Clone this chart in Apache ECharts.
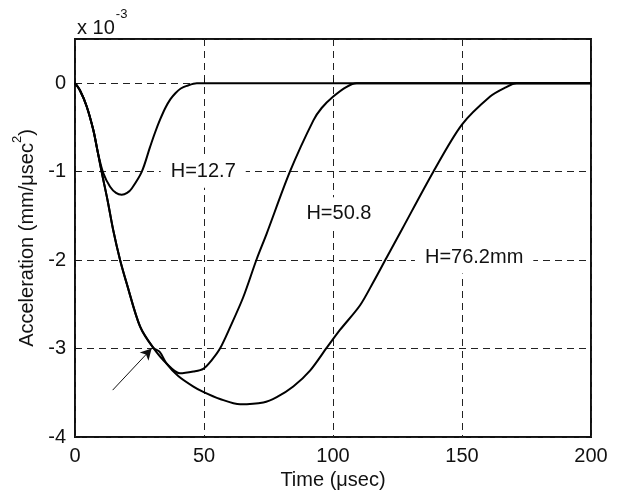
<!DOCTYPE html>
<html>
<head>
<meta charset="utf-8">
<script src="https://cdn.jsdelivr.net/npm/echarts@6/dist/echarts.min.js"></script>
<style>
html,body{margin:0;padding:0;background:#fff;}
#c{width:619px;height:490px;}
</style>
</head>
<body>
<div id="c"></div>
<script>
// Time (usec) and acceleration (x 10^-3 mm/usec^2)
var t1 = [0, 1.9, 4.5, 7.1, 8.9, 11.0, 13.6, 15.9, 18.1, 20.2, 22.0, 25.9, 29.1, 31.0, 33.0, 35.0, 37.0, 39.0, 41.0, 43.3, 47.2, 200];
var a1 = [0, -0.08, -0.26, -0.53, -0.79, -1.02, -1.17, -1.24, -1.26, -1.24, -1.19, -1.0, -0.72, -0.56, -0.41, -0.28, -0.18, -0.11, -0.06, -0.03, 0, 0];

var t2 = [0, 1.9, 4.5, 7.1, 8.9, 10.3, 12.6, 14.8, 17.4, 20.0, 25.2, 30.3, 35.5, 40.7, 45.9, 49.7, 53.0, 56.2, 60.1, 65.2, 70.4, 74.3, 83.3, 92.4, 95.6, 100.1, 105.3, 109.2, 200];
var a2 = [0, -0.08, -0.26, -0.53, -0.79, -1.0, -1.32, -1.66, -1.99, -2.26, -2.75, -2.99, -3.17, -3.28, -3.26, -3.23, -3.13, -3.0, -2.76, -2.42, -1.99, -1.70, -1.0, -0.42, -0.28, -0.15, -0.04, 0, 0];

var t3 = [0, 1.9, 4.5, 7.1, 8.9, 10.3, 12.6, 14.8, 17.4, 20.0, 25.2, 30.3, 32.9, 35.5, 40.0, 45.9, 49.7, 56.2, 64.0, 73.0, 78.2, 84.6, 91.1, 97.6, 102.7, 110.5, 115.6, 120.8, 126.6, 138.9, 149.9, 160.9, 166.7, 171.2, 200];
var a3 = [0, -0.08, -0.26, -0.53, -0.79, -1.0, -1.32, -1.66, -1.99, -2.26, -2.75, -2.99, -3.04, -3.17, -3.31, -3.43, -3.49, -3.57, -3.63, -3.61, -3.55, -3.43, -3.25, -2.99, -2.79, -2.51, -2.25, -1.97, -1.66, -1.0, -0.47, -0.15, -0.05, 0, 0];

var labelTexts = ['H=12.7', 'H=50.8', 'H=76.2mm'];
var labelT = [49.7, 102.3, 154.7];
var labelA = [-1.0, -1.47, -1.97];

var arrowStart = [14.6, -3.47];
var arrowEnd = [29.7, -3.0];

var xTicks = [0, 50, 100, 150, 200];
var yTicks = [-4, -3, -2, -1, 0];

function zip(t, a) { return t.map(function (v, i) { return [v, a[i]]; }); }

var FONT = 'Liberation Sans, Arial, sans-serif';
var chart = echarts.init(document.getElementById('c'), null, {renderer: 'canvas'});

var gridLine = {show: true, lineStyle: {color: '#222', type: [7, 5], width: 1}};
var curveStyle = {color: '#000', width: 2};

chart.setOption({
  backgroundColor: '#fff',
  animation: false,
  title: {
    text: '{a|x 10}{b|-3}',
    left: 72, top: 3,
    textStyle: {
      fontWeight: 'normal',
      rich: {
        a: {fontFamily: FONT, fontSize: 20, fontWeight: 'normal', color: '#111', lineHeight: 30, verticalAlign: 'bottom'},
        b: {fontFamily: FONT, fontSize: 13, fontWeight: 'normal', color: '#111', lineHeight: 30, verticalAlign: 'top', padding: [0, 0, 0, 1]}
      }
    }
  },
  grid: {left: 75, right: 28, top: 39, bottom: 53, show: true, borderColor: '#111', borderWidth: 2, backgroundColor: '#fff',
    containLabel: false, outerBoundsMode: 'none'},
  xAxis: {
    type: 'value', min: xTicks[0], max: xTicks[xTicks.length - 1], interval: 50,
    name: 'Time (\u03bcsec)', nameLocation: 'middle', nameGap: 29,
    nameTextStyle: {fontFamily: FONT, fontSize: 20, color: '#111'},
    axisLine: {show: false},
    axisTick: {show: true, inside: true, length: 5, lineStyle: {color: '#111', width: 1}},
    axisLabel: {fontFamily: FONT, fontSize: 20, color: '#111', margin: 9},
    splitLine: gridLine
  },
  yAxis: {
    type: 'value', min: yTicks[0], max: 0.5, interval: 1,
    name: '{a|Acceleration (mm/\u03bcsec}{b|2}{a|)}', nameLocation: 'middle', nameGap: 36, nameRotate: 90,
    nameTextStyle: {
      rich: {
        a: {fontFamily: FONT, fontSize: 20, color: '#111', lineHeight: 26, verticalAlign: 'bottom'},
        b: {fontFamily: FONT, fontSize: 13, color: '#111', lineHeight: 26, verticalAlign: 'top'}
      }
    },
    axisLine: {show: false},
    axisTick: {show: true, inside: true, length: 5, lineStyle: {color: '#111', width: 1}},
    axisLabel: {fontFamily: FONT, fontSize: 20, color: '#111', margin: 9,
      formatter: function (v) { return yTicks.indexOf(v) >= 0 ? String(v) : ''; }},
    splitLine: gridLine
  },
  series: [
    {type: 'line', data: zip(t1, a1), symbol: 'none', smooth: 0.3, lineStyle: curveStyle, z: 3},
    {type: 'line', data: zip(t2, a2), symbol: 'none', smooth: 0.3, lineStyle: curveStyle, z: 3},
    {type: 'line', data: zip(t3, a3), symbol: 'none', smooth: 0.3, lineStyle: curveStyle, z: 3,
      markLine: {
        silent: true, symbol: ['none', 'arrow'], symbolSize: [9, 11],
        lineStyle: {color: '#111', width: 1, type: 'solid'},
        label: {show: false},
        data: [[{coord: arrowStart}, {coord: arrowEnd}]]
      }},
    {type: 'scatter', symbolSize: 0, z: 2, itemStyle: {color: '#111', opacity: 1},
      data: labelT.map(function (t, i) { return {value: [t, labelA[i]], name: labelTexts[i]}; }),
      label: {show: true, position: 'inside', formatter: '{b}', fontFamily: FONT, fontSize: 20, color: '#111',
        opacity: 1, textBorderWidth: 0, textBorderColor: 'transparent', backgroundColor: '#fff', padding: [6, 10]}}
  ]
});
</script>
</body>
</html>
